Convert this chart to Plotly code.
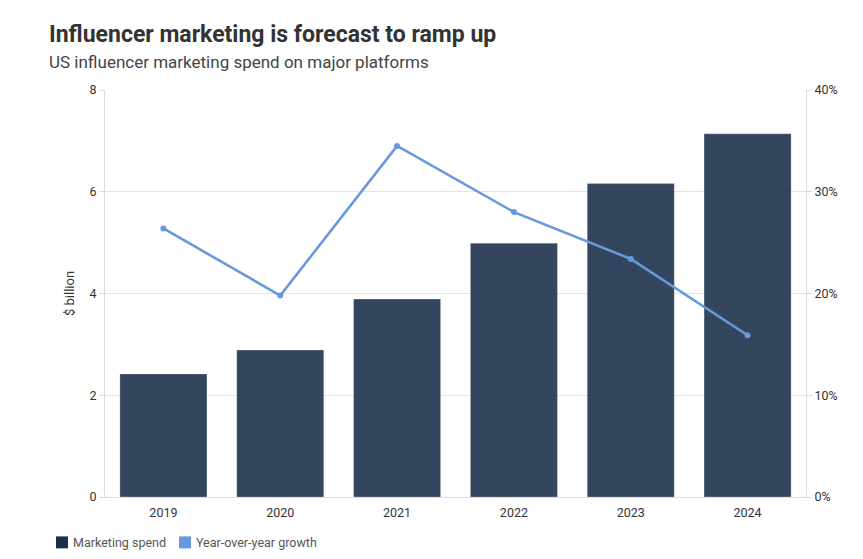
import plotly.graph_objects as go

years = ["2019", "2020", "2021", "2022", "2023", "2024"]
spend = [2.42, 2.89, 3.89, 4.99, 6.16, 7.14]
growth = [26.4, 19.8, 34.5, 28.0, 23.4, 15.9]
legend_names = ["Marketing spend", "Year-over-year growth"]

BAR = "#1b2e4a"
LINE = "#6699dd"
FONT = "Roboto, Inter, sans-serif"

OFF = 8  # page body margin
W, H = 863, 559
# plot area in screen pixels
SL, SR, ST, SB = 105, 806, 89.5, 497.5
L = SL - OFF
R = W - (SR - OFF)
T = ST - OFF
B = H - (SB - OFF)
PW, PH = SR - SL, SB - ST


def px_x(x):
    return (x - SL) / PW


def px_y(y):
    return (SB - y) / PH


fig = go.Figure()
fig.add_trace(go.Bar(x=years, y=spend, name=legend_names[0],
                     marker=dict(color="rgba(27,46,74,0.89)",
                                 line=dict(color="rgba(255,255,255,0.25)", width=1)),
                     showlegend=False, yaxis="y"))
fig.add_trace(go.Scatter(x=years, y=growth, name=legend_names[1],
                         mode="lines+markers", line=dict(color=LINE, width=2.6),
                         marker=dict(color=LINE, size=6), showlegend=False, yaxis="y2"))

# manual legend
shapes = []
annotations = []
legend_items = [(56, BAR, legend_names[0], 71), (179, LINE, legend_names[1], 194)]
for sx, col, name, tx in legend_items:
    x0, x1 = px_x(sx), px_x(sx + 12)
    y0, y1 = px_y(549), px_y(537)
    shapes.append(dict(type="rect", xref="paper", yref="paper", x0=x0, x1=x1, y0=y0, y1=y1,
                       fillcolor=col, line=dict(width=0)))
    annotations.append(dict(text=name, xref="paper", yref="paper", x=px_x(tx), y=px_y(543),
                            xanchor="left", yanchor="middle", showarrow=False,
                            font=dict(size=12.5, color="#555555", family=FONT)))

annotations += [
    dict(text="<b>Influencer marketing is forecast to ramp up</b>", xref="paper", yref="paper",
         x=px_x(47), y=px_y(34), xanchor="left", yanchor="middle",
         showarrow=False, font=dict(size=23, color="#333333", family=FONT)),
    dict(text="US influencer marketing spend on major platforms", xref="paper", yref="paper",
         x=px_x(47), y=px_y(61), xanchor="left", yanchor="middle",
         showarrow=False, font=dict(size=17, color="#444444", family=FONT)),
    dict(text="$ billion", xref="paper", yref="paper", x=px_x(70), y=px_y(294),
         xanchor="center", yanchor="middle", textangle=-90, showarrow=False,
         font=dict(size=13, color="#333333", family=FONT)),
]

fig.update_layout(
    width=W, height=H,
    margin=dict(l=L, r=R, t=T, b=B, autoexpand=False),
    paper_bgcolor="white", plot_bgcolor="white",
    font=dict(family=FONT, color="#333333", size=12),
    bargap=0.255,
    showlegend=False,
    xaxis=dict(showgrid=False, showline=True, linecolor="#dddddd", ticks="",
               automargin=False, ticklabelstandoff=4,
               tickfont=dict(size=12.5, color="#333333")),
    yaxis=dict(range=[0, 8], dtick=2, showgrid=True, gridcolor="#e3e3e3",
               showline=True, linecolor="#dddddd", ticks="outside", ticklen=5,
               tickcolor="#dddddd", zeroline=False, automargin=False,
               tickfont=dict(size=12.5, color="#333333")),
    yaxis2=dict(range=[0, 40], dtick=10, ticksuffix="%", overlaying="y", side="right",
                showgrid=False, showline=True, linecolor="#dddddd", ticks="outside",
                ticklen=5, tickcolor="#dddddd", zeroline=False, automargin=False,
                tickfont=dict(size=12.5, color="#333333")),
    shapes=shapes,
    annotations=annotations,
)

fig.write_html("out.html")
